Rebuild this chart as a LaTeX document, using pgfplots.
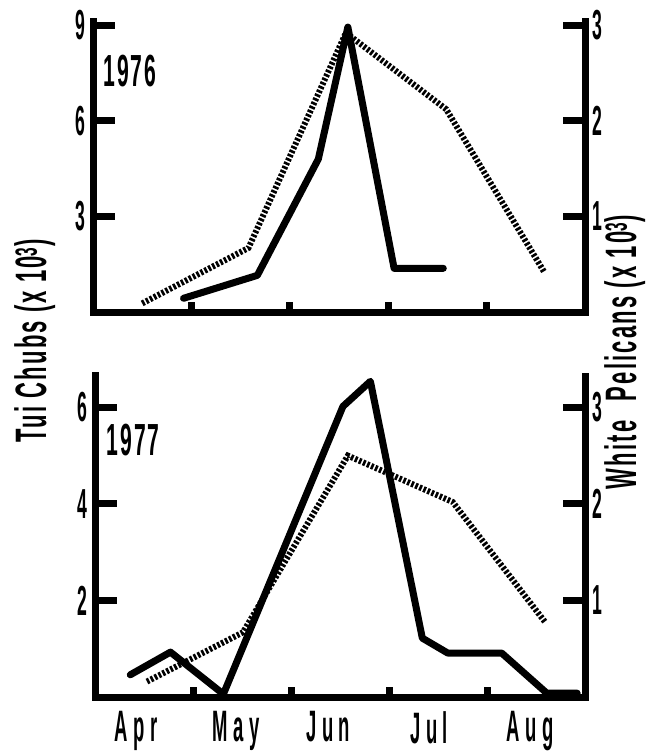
\documentclass[border=0pt]{standalone}
\usepackage{fontspec}
\setmainfont{Liberation Sans}[FakeStretch=0.42]
\newfontfamily\yearfont{Liberation Sans}[FakeStretch=0.47, LetterSpace=4]
\newfontfamily\spaced{Liberation Sans}[FakeStretch=0.42, LetterSpace=12]
\newfontfamily\lblfont{Liberation Sans}[FakeStretch=0.5, LetterSpace=5]
\usepackage{pgfplots}
\pgfplotsset{compat=1.18}

\pgfplotsset{
  panel/.style={
    scale only axis, clip=false,
    xmin=0, xmax=5, ymin=0,
    axis line style={line width=7pt, line cap=rect},
    tick align=inside,
    major tick length=22pt,
    minor tick length=10pt,
    tick style={line width=7pt, black},
    /pgf/number format/assume math mode=true,
    ticklabel style={font=\bfseries\fontsize{42}{44}\selectfont},
    yticklabel style={inner xsep=7pt},
  },
  chub/.style={black, line width=7pt, line join=round, line cap=round},
  pelican/.style={black, line width=6pt, dash pattern=on 2.6pt off 1.8pt},
}

\begin{document}
\begin{tikzpicture}
\path[use as bounding box] (0pt,0pt) rectangle (647pt,-751pt);

% ---- 1976 ----
\begin{axis}[panel, at={(93pt,-312pt)}, anchor=south west,
  width=492pt, height=290pt, ymax=9.1,
  axis x line*=bottom, axis y line*=left,
  ytick={3,6,9},
  xtick={0.42,1.44,2.38,3.41,4.44}, xticklabels={},
  major x tick style={draw=none},
  minor xtick={1,2,3,4},
]
\addplot[chub] coordinates {(0.92,0.43) (1.67,1.15) (2.29,4.8) (2.59,8.94) (3.06,1.37) (3.56,1.37)};
\node[font=\yearfont\bfseries\fontsize{45}{47}\selectfont] at (rel axis cs:0.075,0.83) {1976};
\end{axis}
\begin{axis}[panel, at={(93pt,-312pt)}, anchor=south west,
  width=492pt, height=290pt, ymax=3.0333,
  axis x line=none, axis y line*=right,
  ytick={1,2,3},
]
\addplot[pelican] coordinates {(0.5,0.09) (1.58,0.67) (2.57,2.92) (3.59,2.12) (4.59,0.41)};
\end{axis}

% ---- 1977 ----
\begin{axis}[panel, at={(95pt,-697pt)}, anchor=south west,
  width=490pt, height=321pt, ymax=6.65,
  axis x line*=bottom, axis y line*=left,
  ytick={2,4,6},
  xtick={0.42,1.44,2.38,3.41,4.44},
  xticklabels={Apr,May,Jun,Jul,Aug},
  major x tick style={draw=none},
  minor xtick={1,2,3,4},
  xticklabel style={font=\spaced\bfseries\fontsize{44}{46}\selectfont, inner sep=0pt, yshift=-14pt},
]
\addplot[chub] coordinates {(0.36,0.46) (0.77,0.93) (1.31,0.06) (2.53,6.02) (2.81,6.54) (3.34,1.22) (3.60,0.91) (4.15,0.91) (4.61,0.08) (4.92,0.08)};
\node[font=\yearfont\bfseries\fontsize{45}{47}\selectfont] at (rel axis cs:0.078,0.80) {1977};
\end{axis}
\begin{axis}[panel, at={(95pt,-697pt)}, anchor=south west,
  width=490pt, height=321pt, ymax=3.325,
  axis x line=none, axis y line*=right,
  ytick={1,2,3},
]
\addplot[pelican] coordinates {(0.53,0.16) (1.51,0.67) (2.58,2.5) (3.65,2.02) (4.59,0.78)};
\end{axis}

% axis titles
\node[rotate=90, anchor=base, inner sep=0pt, font=\lblfont\bfseries\fontsize{44}{46}\selectfont] at (46pt,-341pt) {Tui Chubs (x 10\textsuperscript{3})};
\node[rotate=90, anchor=base, inner sep=0pt, font=\lblfont\bfseries\fontsize{44}{46}\selectfont] at (636pt,-352pt) {White\hspace{0.25em} Pelicans (x 10\textsuperscript{3})};
\end{tikzpicture}
\end{document}
